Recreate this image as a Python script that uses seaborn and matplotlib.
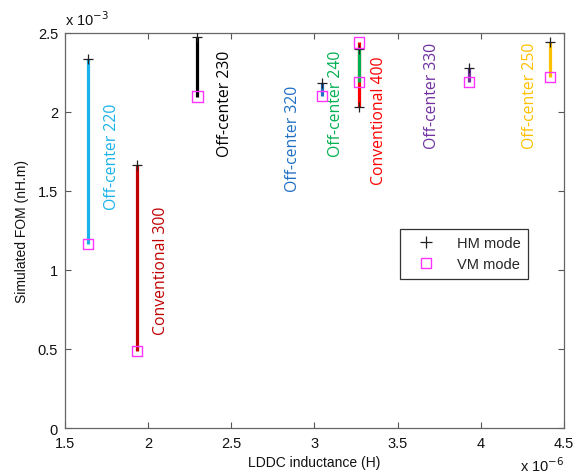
import matplotlib
matplotlib.use("Agg")
import matplotlib.pyplot as plt
import numpy as np
import pandas as pd
import seaborn as sns
from matplotlib.lines import Line2D

# values in units of 1e-6 H (x) and 1e-3 nH.m (y)
designs = ['Off-center 220', 'Conventional 300', 'Off-center 230', 'Off-center 320',
           'Conventional 400', 'Off-center 240', 'Off-center 330', 'Off-center 250']
inductance = [1.638, 1.931, 2.296, 3.045, 3.27, 3.27, 3.93, 4.416]
fom_hm = [2.335, 1.666, 2.477, 2.18, 2.03, 2.40, 2.276, 2.445]
fom_vm = [1.165, 0.489, 2.097, 2.10, 2.44, 2.19, 2.19, 2.22]
colors = ['#1ab2ea', '#c00000', '#000000', '#1f6fc4',
          '#ff0000', '#00b050', '#7030a0', '#ffc000']
label_x = [1.785, 2.08, 2.46, 2.87, 3.39, 3.13, 3.71, 4.30]
label_y = [1.72, 1.00, 2.06, 1.835, 1.95, 2.06, 2.11, 2.11]

df = pd.DataFrame({'design': designs, 'L': inductance, 'HM': fom_hm, 'VM': fom_vm})
long = df.melt(id_vars=['design', 'L'], value_vars=['HM', 'VM'],
               var_name='mode', value_name='FOM')

sns.set_theme(style='white')
plt.rcParams['font.family'] = ['Liberation Sans', 'DejaVu Sans']

fig = plt.figure(figsize=(5.86, 4.77), dpi=100)
ax = fig.add_axes([0.111, 0.1006, 0.851, 0.8284])

# vertical bars linking HM and VM for each design
for i in range(len(designs)):
    ax.plot([inductance[i], inductance[i]], [fom_hm[i], fom_vm[i]],
            color=colors[i], lw=2.3, solid_capstyle='butt', zorder=2)

sns.scatterplot(data=long[long['mode'] == 'HM'], x='L', y='FOM', marker='+',
                color='#222222', s=50, linewidth=0.9, ax=ax, zorder=3, legend=False)
sns.scatterplot(data=long[long['mode'] == 'VM'], x='L', y='FOM', marker='s',
                facecolor='none', edgecolor='#ff33ff', s=55, linewidth=1.0,
                ax=ax, zorder=4, legend=False)

for i, name in enumerate(designs):
    ax.text(label_x[i], label_y[i], name, rotation=90, color=colors[i],
            ha='center', va='center', fontsize=11.3, family=['Open Sans', 'DejaVu Sans'])

ax.set_xlim(1.5, 4.5)
ax.set_ylim(0, 2.5)
ax.set_xticks([1.5, 2, 2.5, 3, 3.5, 4, 4.5])
ax.set_xticklabels(['1.5', '2', '2.5', '3', '3.5', '4', '4.5'])
ax.set_yticks([0, 0.5, 1, 1.5, 2, 2.5])
ax.set_yticklabels(['0', '0.5', '1', '1.5', '2', '2.5'])
ax.tick_params(direction='in', length=4, width=0.8, color='#555555',
               labelsize=10.5, top=True, right=True, bottom=True, left=True,
               labelcolor='#111111', pad=5)
ax.tick_params(axis='x', pad=6)
for s in ax.spines.values():
    s.set_color('#666666')
    s.set_linewidth(0.9)

ax.set_xlabel('LDDC inductance (H)', fontsize=10, color='#111111', labelpad=3)
ax.set_ylabel('Simulated FOM (nH.m)', fontsize=10, color='#111111', labelpad=6)
ax.text(0.0, 1.012, r'x 10$^{-3}$', transform=ax.transAxes, fontsize=10.5,
        ha='left', va='bottom', color='#111111')
ax.text(1.002, -0.108, r'x 10$^{-6}$', transform=ax.transAxes, fontsize=10.5,
        ha='right', va='baseline', color='#111111')

handles = [Line2D([], [], ls='none', marker='+', color='#222222', ms=8, mew=0.9),
           Line2D([], [], ls='none', marker='s', mfc='none', mec='#ff33ff', ms=7.5, mew=1.0)]
leg = ax.legend(handles, ['HM mode', 'VM mode'], loc='upper left',
                bbox_to_anchor=(0.671, 0.504), borderaxespad=0, fancybox=False,
                framealpha=1, edgecolor='#333333', fontsize=10.5, handlelength=2.6,
                handletextpad=0.8, borderpad=0.5, labelspacing=0.5)
leg.get_frame().set_linewidth(0.9)

fig.savefig('out.png', dpi=100)
